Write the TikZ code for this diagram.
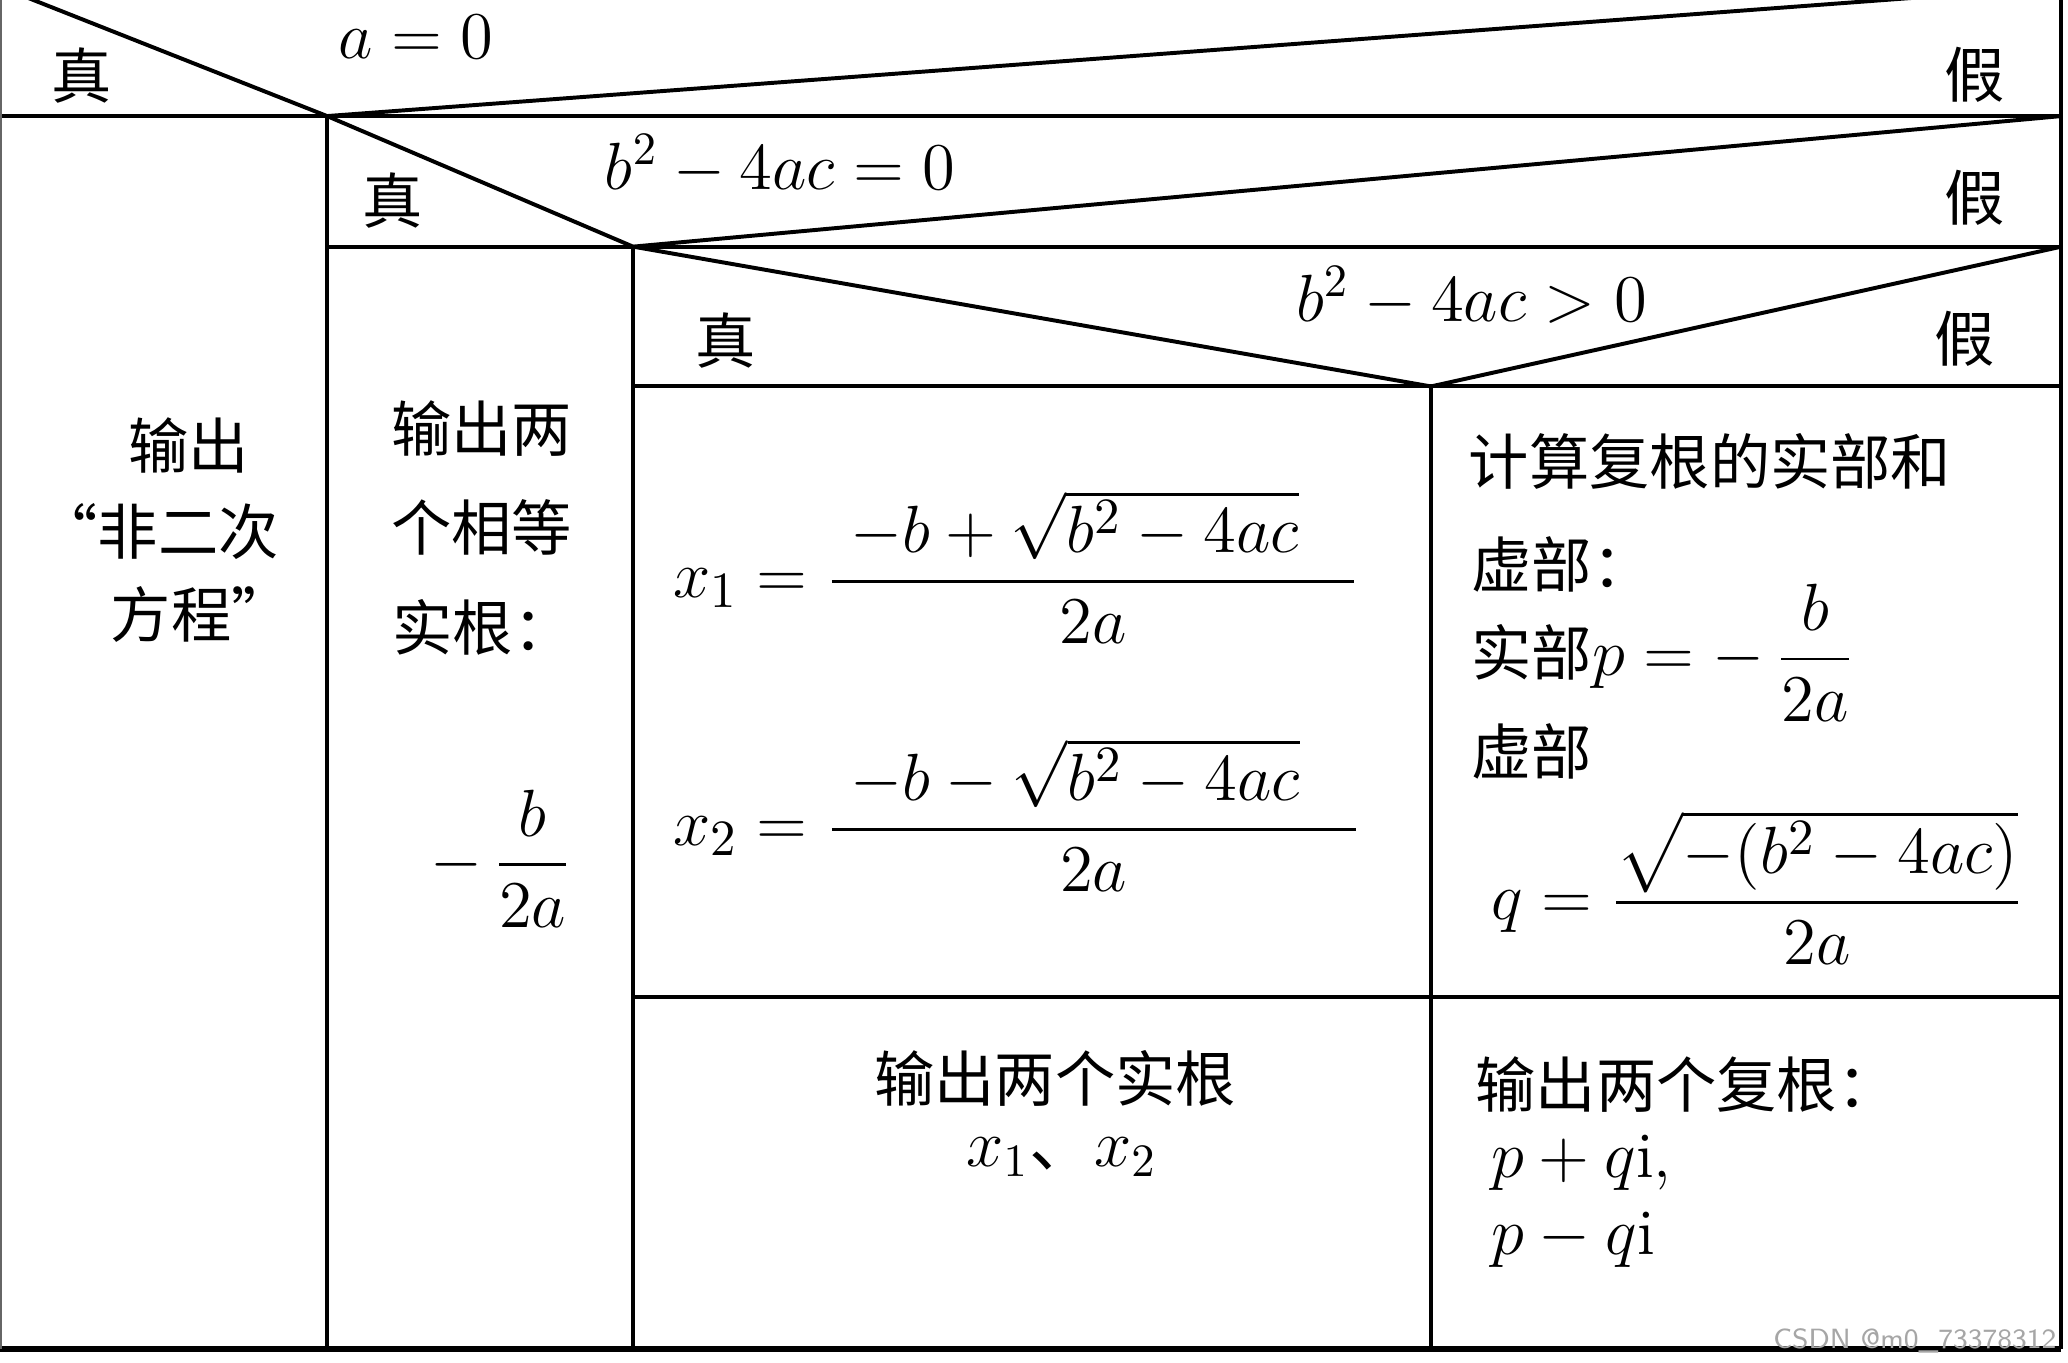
\documentclass[tikz,border=0pt]{standalone}
\usepackage{fontspec}
\usepackage{amsmath}
\newfontfamily\cjk{Noto Sans CJK SC}
\begin{document}
\begin{tikzpicture}[x=0.01cm,y=-0.01cm,
  cn/.style={font=\cjk\fontsize{13}{18}\selectfont, inner sep=0pt},
  mt/.style={font=\fontsize{14}{17}\selectfont, inner sep=0pt},
  bigmt/.style={font=\fontsize{15}{18}\selectfont, inner sep=0pt},
  rule/.style={line width=0.85pt},
  wm/.style={font=\sffamily\fontsize{6}{7}\selectfont, text=black!35, inner sep=0pt}]
\useasboundingbox (0,0) rectangle (1568,1033);
\fill[white] (0,0) rectangle (1568,1033);
\begin{scope}
\clip (0,0) rectangle (1568,1033);
% named corner points
\coordinate (TL) at (0,-10);
\coordinate (TR) at (1563,-10);
\coordinate (A) at (248,88);
\coordinate (B) at (480,187);
\coordinate (C) at (1085,293);
\coordinate (L1) at (0,88);
\coordinate (R1) at (1563,88);
\coordinate (A2) at (248,187);
\coordinate (R2) at (1563,187);
\coordinate (B2) at (480,293);
\coordinate (R3) at (1563,293);
\coordinate (B3) at (480,756);
\coordinate (R4) at (1563,756);
\coordinate (BL) at (0,1023);
\coordinate (BA) at (248,1023);
\coordinate (BB) at (480,1023);
\coordinate (BC) at (1085,1023);
\coordinate (BR) at (1563,1023);
% frame and rows
\draw[rule] (L1) -- (R1);
\draw[rule] (TL) -- (A) -- (TR);
\draw[rule] (A2) -- (R2);
\draw[rule] (A) -- (B) -- (R1);
\draw[rule] (B2) -- (R3);
\draw[rule] (B) -- (C) -- (R2);
\draw[rule] (A) -- (BA);
\draw[rule] (B) -- (BB);
\draw[rule] (C) -- (BC);
\draw[rule] (B3) -- (R4);
\draw[rule] (TR) -- (BR);
\draw[line width=1.4pt] (BL) -- (BR);
\draw[line width=0.4pt, black!60] (0.6,-10) -- (0.6,1023);
\end{scope}
% conditions
\node[cn] (t1) at (62,57) {真};
\node[cn] (f1) at (1497,57) {假};
\node[mt, anchor=west] (c1) at (256,28) {$a=0$};
\node[cn] (t2) at (298,152) {真};
\node[cn] (f2) at (1497,150) {假};
\node[mt, anchor=west] (c2) at (458,125) {$b^2-4ac=0$};
\node[cn] (t3) at (550,258) {真};
\node[cn] (f3) at (1490,257) {假};
\node[mt, anchor=west] (c3) at (982,225) {$b^2-4ac>0$};
% column 1
\node[cn] (o1) at (143,338) {输出};
\node[cn, anchor=east] (o2) at (212,403) {“非二次};
\node[cn, anchor=east] (o3) at (222,466) {方程”};
% column 2
\node[cn, anchor=west] (e1) at (296,325) {输出两};
\node[cn, anchor=west] (e2) at (296,400) {个相等};
\node[cn, anchor=west] (e3) at (297,476) {实根：};
\node[bigmt] (e4) at (380,651) {$-\,\dfrac{\;b\;}{2a}$};
% column 3
\node[bigmt, anchor=west] (x1) at (510,430) {$x_1=\dfrac{\;-b+\sqrt{b^2-4ac}\;\;\;}{2a}$};
\node[bigmt, anchor=west] (x2) at (510,618) {$x_2=\dfrac{\;-b-\sqrt{b^2-4ac}\;\;\;}{2a}$};
% column 4
\node[cn, anchor=west] (k1) at (1113,350) {计算复根的实部和};
\node[cn, anchor=west] (k2) at (1115,428) {虚部：};
\node[cn, anchor=west] (k3) at (1115,495) {实部\fontsize{15}{18}\selectfont$p=-\,\dfrac{\;b\;}{2a}$};
\node[cn, anchor=west] (k4) at (1115,570) {虚部};
\node[bigmt, anchor=west] (k5) at (1130,673) {$q=\dfrac{\sqrt{-(b^2-4ac)}}{2a}$};
% bottom row
\node[cn] (r1) at (800,818) {输出两个实根};
\node[mt] (r2) at (805,877) {$x_1$\cjk 、$x_2$};
\node[cn, anchor=west] (s1) at (1118,822) {输出两个复根：};
\node[mt, anchor=west] (s2) at (1130,882) {$p+q\mathrm{i}$,};
\node[mt, anchor=west] (s3) at (1130,940) {$p-q\mathrm{i}$};
\node[wm, anchor=east] (w) at (1560,1017) {CSDN @m0\_73378312};
\end{tikzpicture}
\end{document}
